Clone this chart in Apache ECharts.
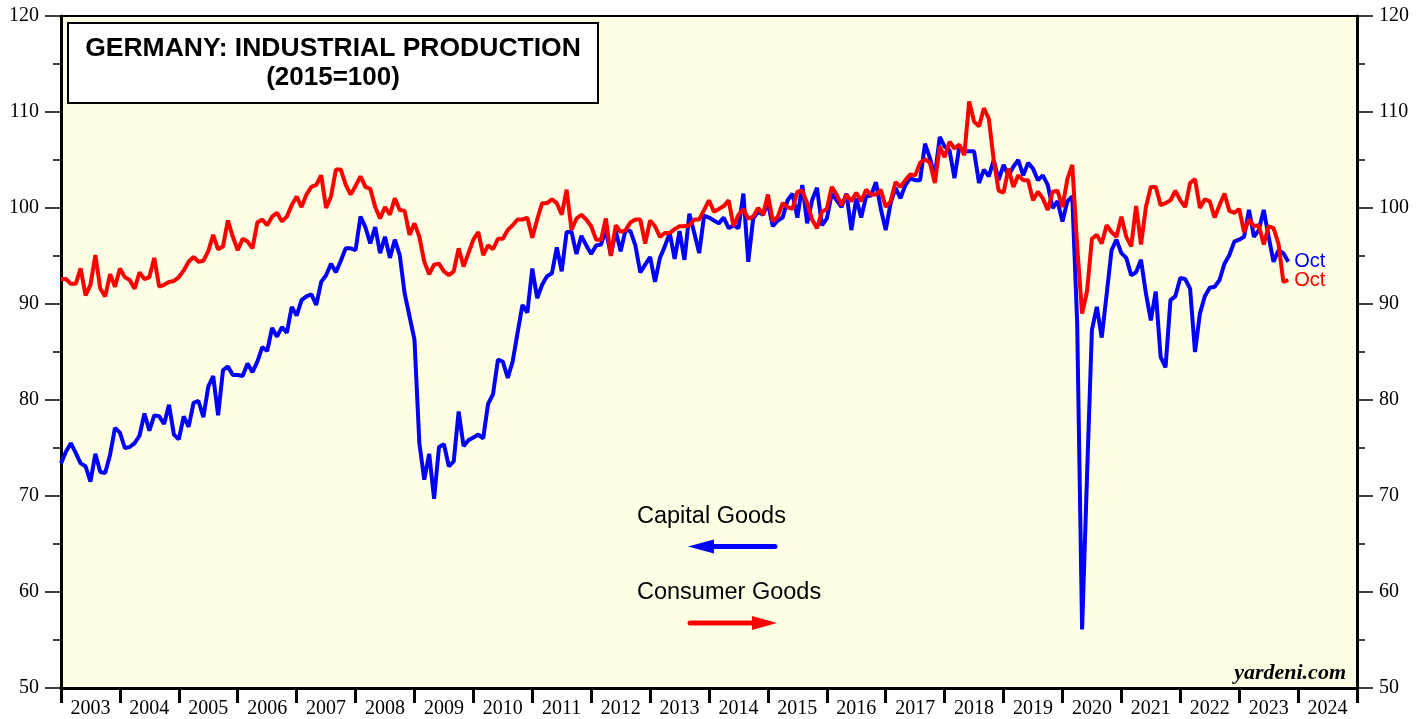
<!DOCTYPE html>
<html>
<head>
<meta charset="utf-8">
<script src="https://cdn.jsdelivr.net/npm/echarts@6/dist/echarts.min.js"></script>
<style>
  html, body { margin: 0; padding: 0; background: #fff; }
  #main { width: 1427px; height: 719px; }
</style>
</head>
<body>
<div id="main"></div>
<script>
/* Germany: industrial production, capital vs consumer goods (2015=100) */
var years = ['2003', '2004', '2005', '2006', '2007', '2008', '2009', '2010', '2011', '2012', '2013',
  '2014', '2015', '2016', '2017', '2018', '2019', '2020', '2021', '2022', '2023', '2024'];

// monthly, Dec 2002 .. Oct 2023
var capitalGoods = [
  73.4, 74.6, 75.5, 74.5, 73.4, 73.1, 71.5, 74.4, 72.5, 72.4,
  74.3, 77.1, 76.6, 75.0, 75.1, 75.5, 76.3, 78.6, 76.8, 78.4,
  78.3, 77.5, 79.5, 76.4, 75.9, 78.3, 77.2, 79.7, 79.9, 78.2,
  81.4, 82.5, 78.4, 83.1, 83.5, 82.6, 82.6, 82.5, 83.8, 82.9,
  84.0, 85.5, 85.1, 87.5, 86.6, 87.6, 87.0, 89.7, 88.8, 90.4,
  90.8, 91.0, 89.9, 92.3, 93.0, 94.2, 93.3, 94.5, 95.8, 95.8,
  95.6, 99.1, 98.0, 96.3, 98.0, 95.3, 97.0, 94.8, 96.7, 95.1,
  91.1, 88.7, 86.3, 75.5, 71.7, 74.4, 69.7, 75.1, 75.4, 73.1,
  73.6, 78.8, 75.2, 75.8, 76.1, 76.4, 76.0, 79.6, 80.6, 84.2,
  84.0, 82.3, 84.0, 87.0, 89.9, 89.1, 93.7, 90.6, 92.0, 92.9,
  93.2, 95.9, 93.4, 97.5, 97.5, 95.2, 97.1, 96.1, 95.2, 96.1,
  96.2, 97.7, 95.1, 97.6, 95.5, 97.7, 97.6, 96.1, 93.3, 94.1,
  94.9, 92.3, 94.8, 96.0, 97.4, 94.7, 97.6, 94.6, 99.4, 97.4,
  95.3, 99.2, 99.0, 98.7, 98.4, 99.0, 97.9, 98.2, 97.9, 101.5,
  94.4, 98.9, 99.6, 99.3, 100.5, 98.1, 98.7, 99.0, 100.8, 101.5,
  99.0, 102.4, 98.4, 100.8, 102.1, 98.2, 98.9, 101.5, 100.8, 100.1,
  101.5, 97.7, 101.0, 99.0, 101.2, 101.3, 102.7, 99.9, 97.7, 100.5,
  102.1, 101.0, 102.4, 103.1, 102.9, 102.9, 106.7, 105.2, 103.3, 107.4,
  106.4, 106.0, 103.1, 106.4, 105.9, 105.9, 105.9, 102.6, 104.0, 103.3,
  105.0, 102.9, 104.5, 103.4, 104.3, 105.0, 103.4, 104.7, 104.1, 102.9,
  103.4, 102.4, 100.0, 100.7, 98.6, 100.7, 101.2, 88.0, 56.1, 72.0,
  87.3, 89.7, 86.5, 91.0, 95.6, 96.7, 95.3, 94.8, 93.0, 93.3,
  94.6, 91.1, 88.3, 91.3, 84.5, 83.4, 90.4, 90.8, 92.7, 92.6,
  91.6, 85.0, 89.0, 90.8, 91.7, 91.8, 92.5, 94.2, 95.1, 96.5,
  96.7, 97.0, 99.8, 97.0, 97.7, 99.8, 97.0, 94.4, 95.6, 95.3,
  94.4
];

var consumerGoods = [
  92.6, 92.6, 92.1, 92.1, 93.7, 90.9, 92.0, 95.1, 91.6, 90.8,
  93.1, 91.8, 93.7, 92.8, 92.5, 91.6, 93.3, 92.6, 92.8, 94.8,
  91.8, 92.0, 92.3, 92.4, 92.8, 93.5, 94.4, 94.9, 94.4, 94.5,
  95.5, 97.2, 95.7, 96.0, 98.7, 97.0, 95.6, 96.8, 96.5, 95.8,
  98.5, 98.8, 98.2, 99.1, 99.5, 98.6, 99.1, 100.3, 101.2, 100.1,
  101.4, 102.2, 102.4, 103.4, 100.0, 101.2, 104.0, 104.0, 102.4, 101.4,
  102.3, 103.3, 102.2, 102.0, 100.1, 98.9, 100.1, 99.3, 101.0, 99.8,
  99.7, 97.2, 98.4, 97.0, 94.4, 93.1, 94.1, 94.2, 93.4, 93.0,
  93.4, 95.8, 93.9, 95.3, 96.7, 97.5, 95.1, 96.1, 95.7, 96.8,
  96.8, 97.7, 98.2, 98.8, 98.8, 99.0, 96.9, 98.8, 100.5, 100.5,
  100.9, 100.5, 99.3, 101.9, 97.7, 98.9, 99.3, 98.8, 98.1, 96.7,
  96.7, 98.9, 95.0, 98.2, 97.5, 97.7, 98.5, 98.8, 98.8, 96.3,
  98.7, 98.1, 97.0, 97.4, 97.4, 97.8, 98.1, 98.1, 98.2, 98.8,
  98.8, 99.8, 100.8, 99.6, 99.9, 100.2, 100.8, 98.1, 99.3, 99.9,
  98.9, 99.1, 100.0, 99.3, 101.4, 98.6, 99.1, 100.5, 100.1, 99.9,
  101.7, 101.8, 100.5, 98.8, 97.9, 99.6, 99.9, 102.2, 101.4, 100.3,
  101.4, 100.7, 101.6, 100.7, 101.9, 101.4, 101.4, 101.9, 100.1, 100.7,
  102.7, 102.2, 102.9, 103.5, 103.4, 104.7, 105.1, 104.7, 102.6, 106.4,
  105.3, 106.9, 106.2, 106.6, 105.5, 111.1, 109.0, 108.5, 110.4, 109.3,
  105.0, 101.8, 101.6, 104.1, 102.2, 103.4, 102.9, 102.9, 100.8, 101.7,
  101.0, 99.8, 101.7, 101.8, 100.1, 103.0, 104.5, 96.0, 89.0, 91.3,
  96.8, 97.2, 96.3, 98.2, 97.5, 97.0, 99.1, 97.0, 96.0, 100.2,
  96.2, 100.1, 102.2, 102.2, 100.3, 100.5, 100.8, 101.8, 100.8, 100.1,
  102.6, 103.0, 100.0, 100.9, 100.7, 99.0, 100.3, 101.5, 99.7, 99.5,
  99.9, 97.5, 98.8, 98.1, 98.2, 96.2, 98.1, 97.9, 96.3, 92.3,
  92.5
];

// month labels, Dec 2002 onward; each value is plotted at the end of its month
var months = [];
(function () {
  var y = 2002, m = 12;
  while (months.length < capitalGoods.length) {
    months.push(y + '-' + (m < 10 ? '0' + m : m));
    m++;
    if (m > 12) { m = 1; y++; }
  }
})();

function monthEnd(label) {
  var p = label.split('-');
  return +p[0] + (+p[1]) / 12;
}

function pairs(values) {
  return values.map(function (v, i) { return [monthEnd(months[i]), v]; });
}

var chartDom = document.getElementById('main');
var myChart = echarts.init(chartDom);
var option;

var serif = 'Liberation Serif';
var sans = 'Liberation Sans';

function yAxisOf(pos) {
  return {
    type: 'value',
    position: pos,
    min: 50,
    max: 120,
    interval: 10,
    axisLine: { show: true, lineStyle: { color: '#000', width: 3 } },
    axisTick: { show: true, length: 16, lineStyle: { color: '#000', width: 1.5 } },
    minorTick: { show: true, splitNumber: 2, length: 8, lineStyle: { color: '#000', width: 1.5 } },
    axisLabel: { color: '#000', fontFamily: serif, fontSize: 20, margin: 22 },
    splitLine: { show: false }
  };
}

option = {
  animation: false,
  backgroundColor: '#fff',
  grid: {
    left: 61,
    right: 70,
    top: 16,
    bottom: 31,
    show: true,
    backgroundColor: '#ffffe5',
    borderColor: '#000',
    borderWidth: 2
  },
  xAxis: [
    {
      type: 'value',
      min: 2003,
      max: 2025,
      show: false
    },
    {
      type: 'category',
      position: 'bottom',
      data: years,
      boundaryGap: true,
      axisLine: { show: true, lineStyle: { color: '#000', width: 3 } },
      axisTick: { show: true, interval: 0, length: 15, lineStyle: { color: '#000', width: 3 } },
      axisLabel: { interval: 0, color: '#000', fontFamily: serif, fontSize: 20, margin: 11 },
      splitLine: { show: false }
    }
  ],
  yAxis: [yAxisOf('left'), yAxisOf('right')],
  series: [
    {
      name: 'Capital Goods',
      type: 'line',
      xAxisIndex: 0,
      yAxisIndex: 0,
      showSymbol: false,
      lineStyle: { color: '#0000ff', width: 4 },
      itemStyle: { color: '#0000ff' },
      endLabel: { show: true, formatter: 'Oct', color: '#0000ff', fontFamily: sans, fontSize: 20, distance: 6 },
      data: pairs(capitalGoods)
    },
    {
      name: 'Consumer Goods',
      type: 'line',
      xAxisIndex: 0,
      yAxisIndex: 0,
      showSymbol: false,
      lineStyle: { color: '#ff0000', width: 4 },
      itemStyle: { color: '#ff0000' },
      endLabel: { show: true, formatter: 'Oct', color: '#ff0000', fontFamily: sans, fontSize: 20, distance: 6 },
      data: pairs(consumerGoods)
    }
  ],
  graphic: [
    {
      type: 'rect',
      shape: { x: 68, y: 23, width: 530, height: 80 },
      style: { fill: '#fff', stroke: '#000', lineWidth: 2 },
      z: 10
    },
    {
      type: 'text',
      x: 333, y: 49,
      style: { text: 'GERMANY: INDUSTRIAL PRODUCTION', fill: '#000', font: 'bold 26.5px "Liberation Sans"', textAlign: 'center', textVerticalAlign: 'middle' },
      z: 11
    },
    {
      type: 'text',
      x: 333, y: 78,
      style: { text: '(2015=100)', fill: '#000', font: 'bold 26px "Liberation Sans"', textAlign: 'center', textVerticalAlign: 'middle' },
      z: 11
    },
    {
      type: 'text',
      x: 637, y: 517,
      style: { text: 'Capital Goods', fill: '#000', font: '23.5px "Liberation Sans"', textAlign: 'left', textVerticalAlign: 'middle' },
      z: 10
    },
    {
      type: 'polyline',
      shape: { points: [[710, 546.5], [775, 546.5]] },
      style: { stroke: '#0000ff', lineWidth: 5, lineCap: 'round' },
      z: 10
    },
    {
      type: 'polygon',
      shape: { points: [[688, 546.5], [714, 539.5], [714, 553.5]] },
      style: { fill: '#0000ff' },
      z: 10
    },
    {
      type: 'text',
      x: 637, y: 593,
      style: { text: 'Consumer Goods', fill: '#000', font: '23.5px "Liberation Sans"', textAlign: 'left', textVerticalAlign: 'middle' },
      z: 10
    },
    {
      type: 'polyline',
      shape: { points: [[690, 623], [756, 623]] },
      style: { stroke: '#ff0000', lineWidth: 5, lineCap: 'round' },
      z: 10
    },
    {
      type: 'polygon',
      shape: { points: [[777, 623], [752, 616], [752, 630]] },
      style: { fill: '#ff0000' },
      z: 10
    },
    {
      type: 'text',
      x: 1346, y: 673,
      style: { text: 'yardeni.com', fill: '#000', font: 'italic bold 22px "Liberation Serif"', textAlign: 'right', textVerticalAlign: 'middle' },
      z: 10
    }
  ]
};

option && myChart.setOption(option);

window.onresize = function () {
  myChart.resize();
};
</script>
</body>
</html>
